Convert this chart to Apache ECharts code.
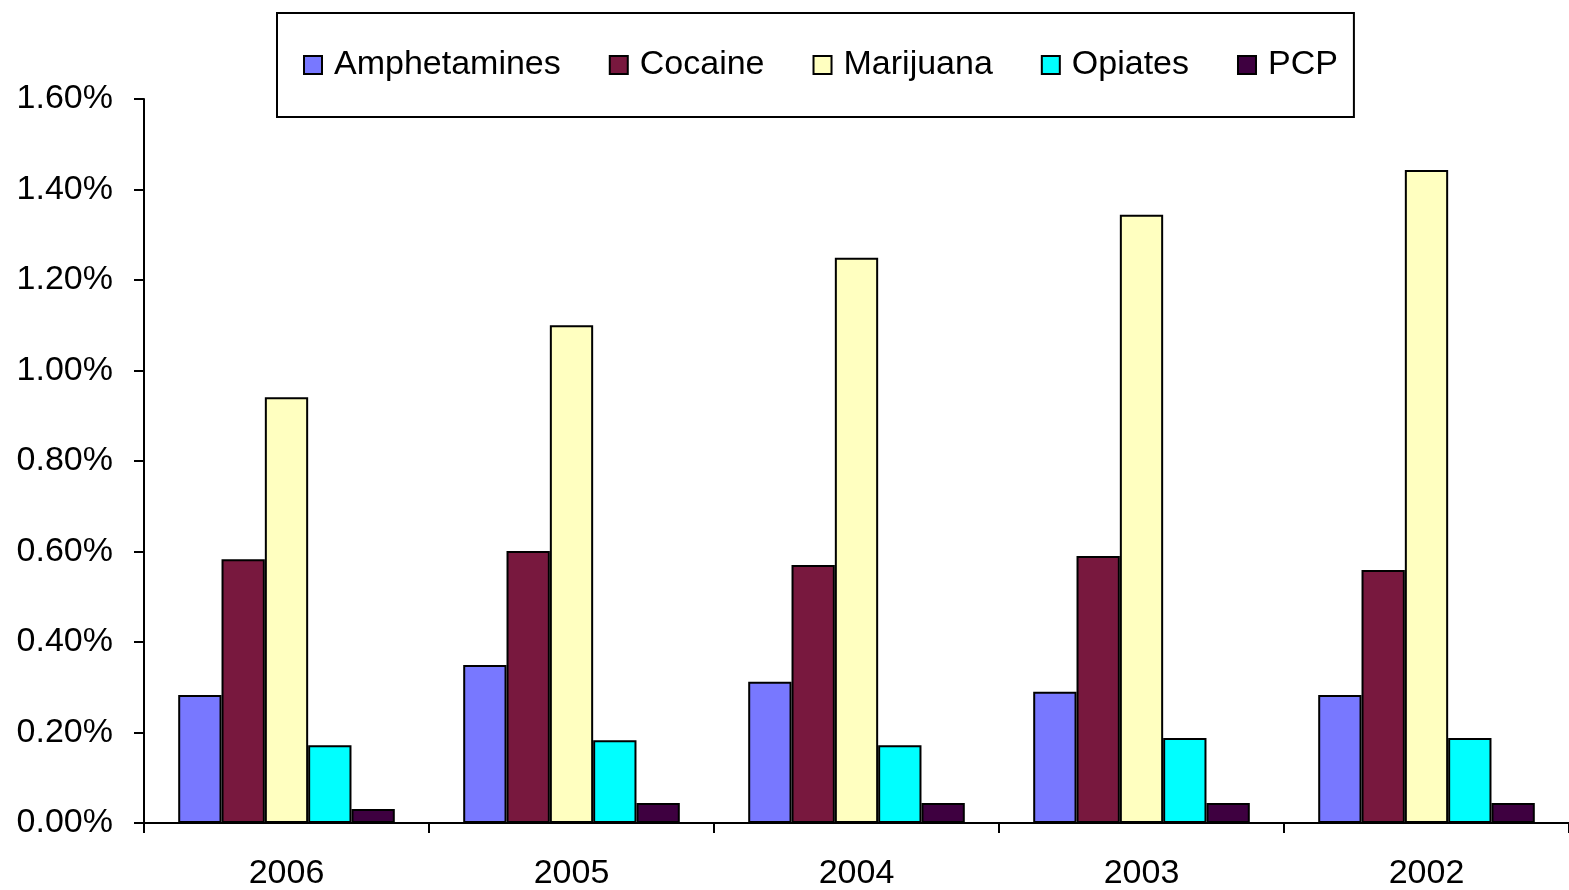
<!DOCTYPE html>
<html><head><meta charset="utf-8">
<script src="https://cdn.jsdelivr.net/npm/echarts@6/dist/echarts.min.js"></script>
<style>html,body{margin:0;padding:0;background:#fff}#c{width:1569px;height:890px}</style>
</head><body><div id="c"></div>
<script>
const categories = ['2006', '2005', '2004', '2003', '2002'];
const amphetamines = [0.283, 0.349, 0.312, 0.290, 0.283];
const cocaine = [0.583, 0.601, 0.570, 0.590, 0.559];
const marijuana = [0.941, 1.100, 1.249, 1.344, 1.443];
const opiates = [0.172, 0.183, 0.172, 0.188, 0.188];
const pcp = [0.031, 0.044, 0.044, 0.044, 0.044];
const yTicks = { min: 0, max: 1.6, interval: 0.2 };

const seriesDefs = [
  ['Amphetamines', amphetamines, '#7878FF'],
  ['Cocaine', cocaine, '#78183E'],
  ['Marijuana', marijuana, '#FFFFC0'],
  ['Opiates', opiates, '#00FFFF'],
  ['PCP', pcp, '#3E0040']
];
const font = 'Liberation Sans, Arial, sans-serif';
const chart = echarts.init(document.getElementById('c'));
chart.setOption({
  animation: false,
  textStyle: { fontFamily: font },
  legend: {
    left: 277, top: 13,
    padding: [35, 16, 35, 26],
    borderColor: '#000', borderWidth: 2,
    icon: 'rect',
    itemWidth: 18, itemHeight: 18, itemGap: 48,
    textStyle: { fontSize: 34, color: '#000', fontFamily: font, padding: [0, 0, 0, 7] },
    data: seriesDefs.map(s => s[0])
  },
  grid: { left: 144, right: 0, top: 99, bottom: 67, containLabel: false, outerBoundsMode: 'none' },
  xAxis: {
    type: 'category', data: categories,
    axisLine: { lineStyle: { color: '#000', width: 2 } },
    axisTick: { show: true, length: 10, lineStyle: { color: '#000', width: 2 } },
    axisLabel: { color: '#000', fontSize: 34, margin: 34, fontFamily: font },
    splitLine: { show: false }
  },
  yAxis: {
    type: 'value', min: yTicks.min, max: yTicks.max, interval: yTicks.interval,
    axisLine: { show: true, lineStyle: { color: '#000', width: 2 } },
    axisTick: { show: true, length: 10, lineStyle: { color: '#000', width: 2 } },
    axisLabel: { color: '#000', fontSize: 34, margin: 31, fontFamily: font,
      formatter: v => v.toFixed(2) + '%' },
    splitLine: { show: false }
  },
  series: seriesDefs.map(s => ({
    name: s[0], type: 'bar', data: s[1],
    barGap: '0%', barCategoryGap: '24%',
    itemStyle: { color: s[2], borderColor: '#000', borderWidth: 2 }
  }))
});
</script></body></html>
